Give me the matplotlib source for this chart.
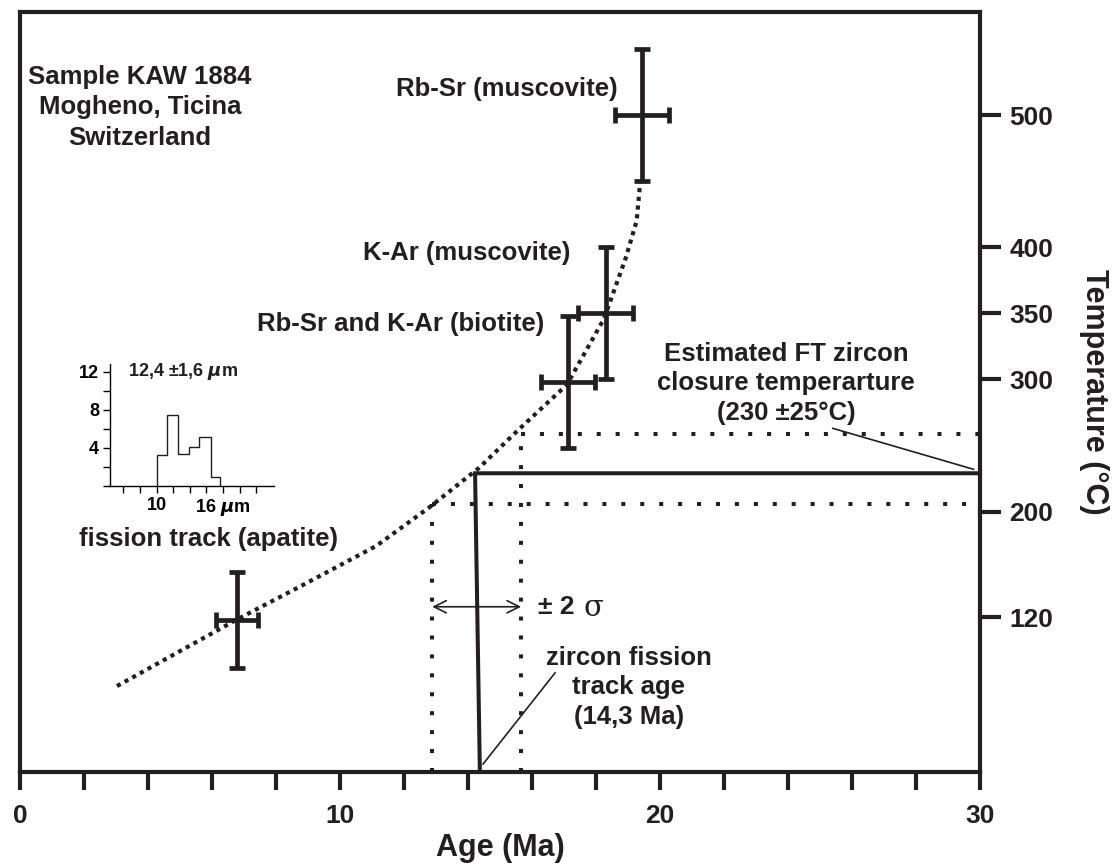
import numpy as np
import matplotlib.pyplot as plt

# thermochronology data, sample KAW 1884
mineral = ['fission track (apatite)', 'Rb-Sr and K-Ar (biotite)',
           'K-Ar (muscovite)', 'Rb-Sr (muscovite)']
age = [6.78, 17.13, 18.31, 19.44]
age_err = [0.67, 0.84, 0.86, 0.84]
temp = [118, 298, 350, 500]
temp_err = [36, 50, 50, 50]

# dotted cooling path
path_age = [3.03, 6.75, 8.88, 11.13, 12.78, 14.34, 15.58, 17.09, 18.25, 18.93, 19.27, 19.38]
path_temp = [68, 118, 145, 174, 203, 233, 262, 296, 346, 392, 420, 449]

# zircon fission track age and closure temperature
zft_line_age = [14.37, 14.22, 30]
zft_line_temp = [3, 229, 229]
zft_sigma_age = [12.88, 15.66]
closure_band = [206, 259]

# apatite track length histogram
track_edges = [10, 10.9, 11.9, 12.9, 13.8, 14.9, 15.7]
track_counts = [3.3, 7.4, 3.4, 4.1, 5.1, 0.9]

temp_ticks = [120, 200, 300, 350, 400, 500]
age_ticks = [0, 10, 20, 30]

k = '#231f20'
plt.rcParams['font.family'] = ['Liberation Sans', 'DejaVu Sans']
plt.rcParams['font.weight'] = 'bold'
plt.rcParams['axes.labelweight'] = 'bold'

fig = plt.figure(figsize=(11.19, 8.64), dpi=100)
ax = fig.add_axes([0.0179, 0.1065, 0.8579, 0.8796])

ax.set_xlim(0, 30)
ax.set_ylim(3, 578)

# error crosses
ax.errorbar(age, temp, xerr=age_err, yerr=temp_err, fmt='none', ecolor=k,
            elinewidth=3.4, capsize=5.5, capthick=3.4, zorder=4)

# cooling path
ax.plot(path_age, path_temp, color=k, lw=3.0, linestyle=(0, (1, 1.1)), zorder=3)

# zircon FT age / closure temperature
ax.plot(zft_line_age, zft_line_temp, color=k, lw=2.9, solid_joinstyle='miter', zorder=3)
dot = (0, (1, 3.7))
ax.plot([zft_sigma_age[0], zft_sigma_age[0]], [3, closure_band[0]], color=k, lw=2.9, ls=dot)
ax.plot([zft_sigma_age[1], zft_sigma_age[1]], [3, closure_band[1]], color=k, lw=2.9, ls=dot)
ax.plot([zft_sigma_age[0], 30], [closure_band[0], closure_band[0]], color=k, lw=2.9, ls=dot)
ax.plot([zft_sigma_age[1], 30], [closure_band[1], closure_band[1]], color=k, lw=2.9, ls=dot)

ax.annotate('', xy=(zft_sigma_age[1], 128), xytext=(zft_sigma_age[0], 128),
            arrowprops=dict(arrowstyle='<->', lw=1.2, color=k, mutation_scale=22,
                            shrinkA=0, shrinkB=0))
ax.text(16.19, 128, '± 2', fontsize=19, color=k, ha='left', va='center')
ax.text(17.6, 127, 'σ', fontsize=21, color=k, ha='left', va='center',
        family='DejaVu Serif', fontweight='normal')

# labels
fs = 18.5
ax.text(3.75, 506, 'Sample KAW 1884\nMogheno, Ticina\nSwitzerland', fontsize=fs,
        color=k, ha='center', va='center', linespacing=1.35)
ax.text(18.66, 520, mineral[3], fontsize=fs, color=k, ha='right', va='center')
ax.text(13.97, 396, mineral[2], fontsize=fs, color=k, ha='center', va='center')
ax.text(11.88, 342, mineral[1], fontsize=fs, color=k, ha='center', va='center')
ax.text(9.94, 179, mineral[0], fontsize=fs, color=k, ha='right', va='center')
ax.text(23.94, 297, 'Estimated FT zircon\nclosure temperarture\n(230 ±25°C)', fontsize=fs,
        color=k, ha='center', va='center', linespacing=1.3)
ax.text(19.03, 67, 'zircon fission\ntrack age\n(14,3 Ma)', fontsize=fs, color=k,
        ha='center', va='center', linespacing=1.3)
ax.plot([16.72, 14.47], [78, 9], color=k, lw=1.2)
ax.plot([25.4, 29.8], [263, 232], color=k, lw=1.2)

# axes styling
for s in ax.spines.values():
    s.set_linewidth(3)
    s.set_color(k)
ax.set_xticks(np.arange(0, 31, 2), minor=True)
ax.set_xticks(age_ticks)
ax.tick_params(axis='x', which='both', direction='out', length=13, width=3, color=k)
ax.tick_params(axis='x', labelsize=19, pad=10, colors=k)
ax.yaxis.tick_right()
ax.yaxis.set_label_position('right')
ax.set_yticks(temp_ticks)
ax.tick_params(axis='y', direction='out', length=15, width=3, color=k,
               labelsize=19, pad=6, labelcolor=k)
ax.set_xlabel('Age (Ma)', fontsize=22, color=k, labelpad=4)
ax.set_ylabel('Temperature (°C)', fontsize=22, color=k, rotation=-90, labelpad=40)

# inset histogram
ins = fig.add_axes([0.0983, 0.4375, 0.1466, 0.1412])
ins.stairs(track_counts, track_edges, color=k, lw=1)
ins.set_xlim(5.8, 20.6)
ins.set_ylim(0, 12.8)
ins.spines['top'].set_visible(False)
ins.spines['right'].set_visible(False)
for s in ['left', 'bottom']:
    ins.spines[s].set_linewidth(1)
ins.set_yticks(np.arange(0, 13, 2), minor=True)
ins.set_yticks([4, 8, 12])
ins.set_xticks(np.arange(7, 20, 1.5), minor=True)
ins.set_xticks([10, 16])
ins.set_xticklabels(['10', '16 $\\mathit{\\mu}$m'])
ins.tick_params(which='both', length=5, width=1, labelsize=13, pad=3)
ins.patch.set_alpha(0)
ins.text(12.4, 12, '12,4 ±1,6 $\\mathit{\\mu}$m', fontsize=13, color=k, ha='center', va='center')

fig.savefig('out.png', dpi=100)
